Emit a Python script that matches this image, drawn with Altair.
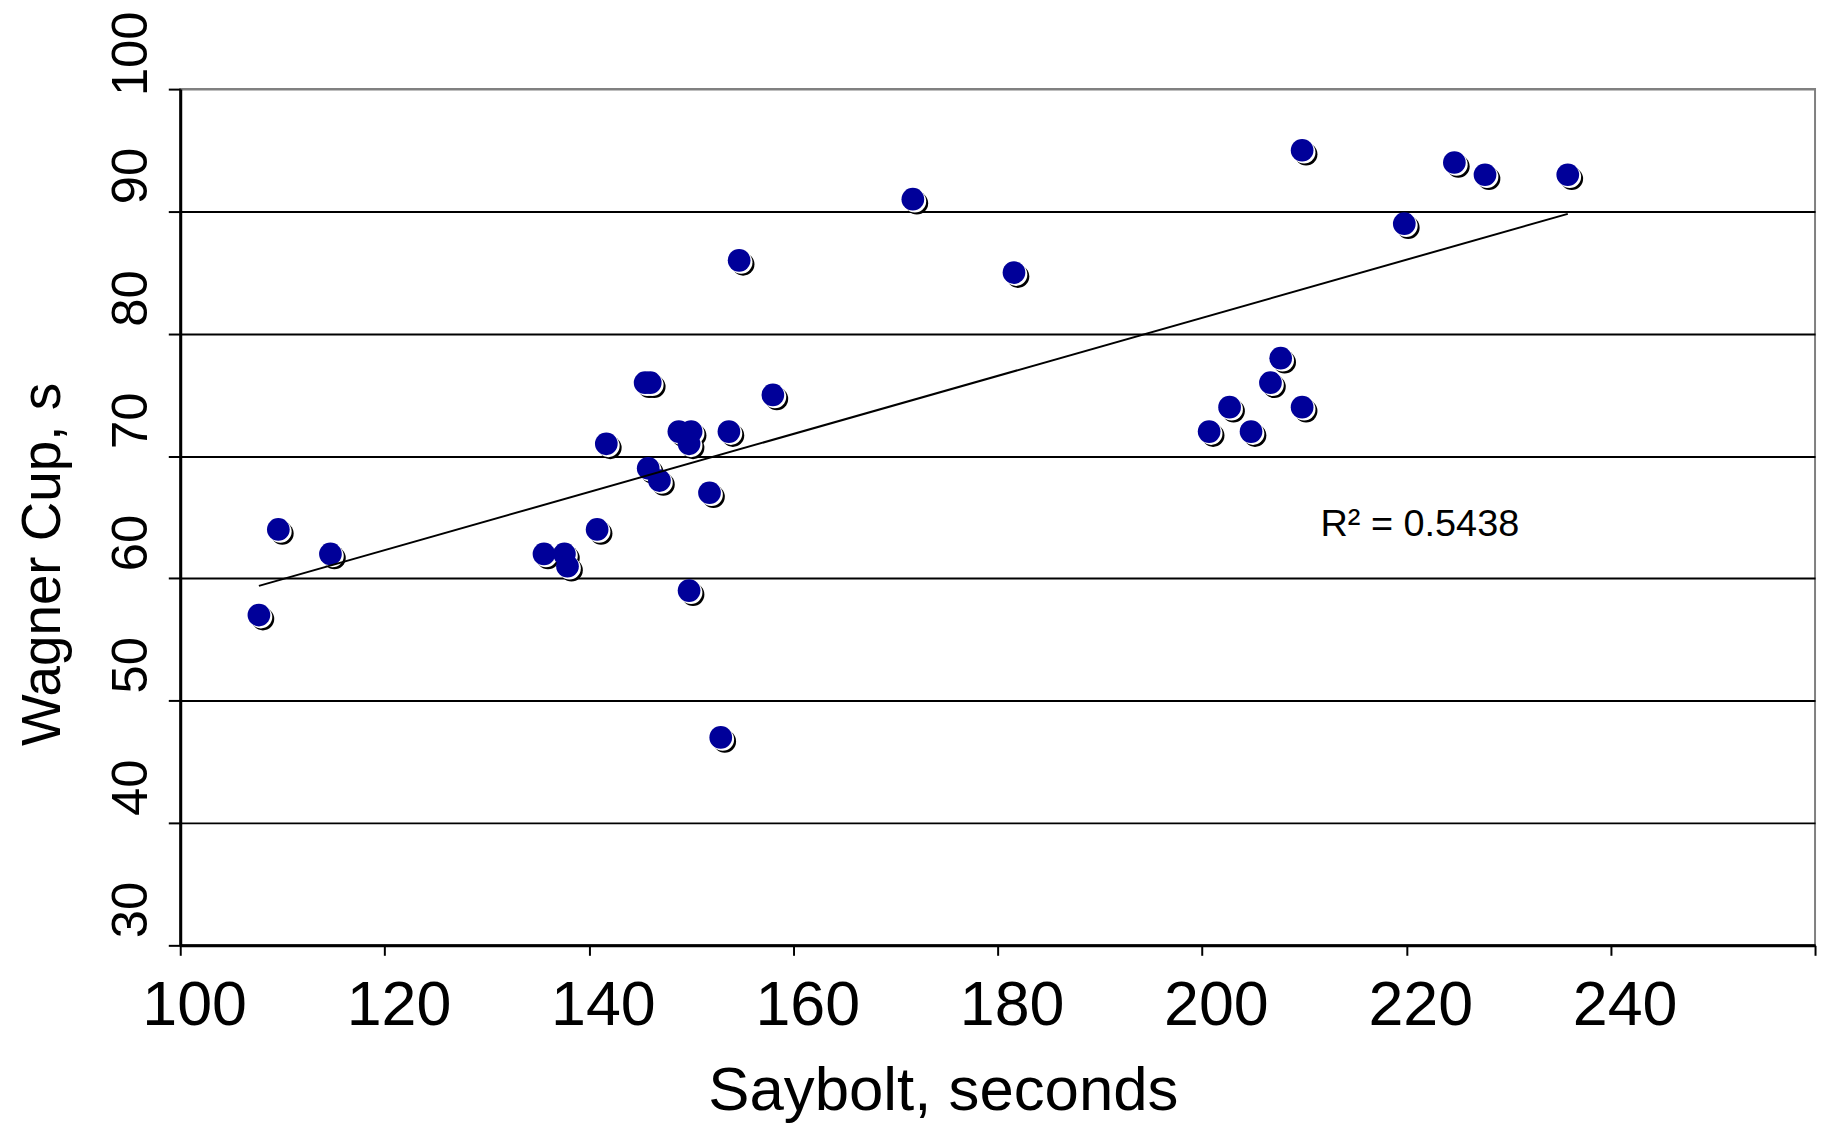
import altair as alt
import pandas as pd

saybolt = [107.7, 109.6, 114.7, 135.6, 137.6, 137.9, 140.8, 141.7, 145.5, 146.0,
           145.8, 146.9, 148.8, 150.0, 149.8, 149.8, 151.8, 152.9, 153.7, 154.7,
           158.0, 171.7, 181.6, 200.7, 202.7, 204.8, 206.7, 207.7, 209.8, 209.8,
           219.8, 224.7, 227.7, 235.8]
wagner = [57, 64, 62, 62, 62, 61, 64, 71, 76, 76,
          69, 68, 72, 72, 71, 59, 67, 47, 72, 86,
          75, 91, 85, 72, 74, 72, 76, 78, 74, 95,
          89, 94, 93, 93]
x_ticks = [100, 120, 140, 160, 180, 200, 220, 240, 260]
y_ticks = [30, 40, 50, 60, 70, 80, 90, 100]
r2_label = "R\u00b2 = 0.5438"

df = pd.DataFrame({"Saybolt": saybolt, "Wagner": wagner})

x_enc = alt.X(
    "Saybolt:Q",
    scale=alt.Scale(domain=[100, 260], nice=False, zero=False),
    axis=alt.Axis(
        values=x_ticks,
        labelExpr="datum.value >= 260 ? '' : datum.label",
        grid=False,
        domainColor="black", domainWidth=3,
        tickColor="black", tickWidth=2, tickSize=10,
        labelFont="Liberation Sans", labelFontSize=63, labelColor="black",
        labelPadding=70, labelBaseline="alphabetic", labelOffset=14,
        labelFlush=False, labelOverlap=False, labelBound=False,
        title="Saybolt, seconds", titleFont="Liberation Sans", titleFontSize=62,
        titleFontWeight="normal", titleColor="black",
        titleX=766, titleY=165, titleAlign="center", titleBaseline="alphabetic",
    ),
)
y_enc = alt.Y(
    "Wagner:Q",
    scale=alt.Scale(domain=[30, 100], nice=False, zero=False),
    axis=alt.Axis(
        values=y_ticks,
        grid=True,
        gridColor={"condition": {"test": "datum.value >= 100", "value": "#808080"}, "value": "black"},
        gridWidth=2,
        domainColor="black", domainWidth=3,
        tickColor="black", tickWidth=2, tickSize=12,
        labelAngle=270, labelAlign="center", labelBaseline="alphabetic",
        labelPadding=22, labelOffset=-36,
        labelFont="Liberation Sans", labelFontSize=51, labelColor="black",
        labelFlush=False, labelOverlap=False, labelBound=False,
        title="Wagner Cup, s", titleFont="Liberation Sans", titleFontSize=55,
        titleFontWeight="normal", titleColor="black", titleAngle=270,
        titleX=-121, titleY=477, titleAlign="center", titleBaseline="alphabetic",
    ),
)

base = alt.Chart(df)

shadow = base.mark_circle(size=520, color="black", opacity=1, xOffset=4, yOffset=4).encode(
    x=x_enc, y=y_enc
)
gap = base.mark_circle(size=520, color="white", opacity=1, xOffset=2, yOffset=2).encode(
    x="Saybolt:Q", y="Wagner:Q"
)
dots = base.mark_circle(size=520, color="#000099", opacity=1).encode(
    x="Saybolt:Q", y="Wagner:Q"
)
trend = base.transform_regression("Saybolt", "Wagner", method="linear").mark_line(
    color="black", strokeWidth=2
).encode(x="Saybolt:Q", y="Wagner:Q")

r2 = alt.Chart(pd.DataFrame({"label": [r2_label]})).mark_text(
    font="Liberation Sans", fontSize=38, color="black", align="left", baseline="alphabetic"
).encode(
    x=alt.datum(211.6), y=alt.datum(63.5), text="label:N"
)

chart = alt.layer(shadow, gap, dots, trend, r2).properties(
    width=1642, height=860,
    autosize=alt.AutoSizeParams(type="none"),
    padding={"left": 173, "top": 79, "right": 8, "bottom": 182},
    background="white",
).configure_view(stroke="#808080", strokeWidth=2)

chart.save("out.html", embed_options={"renderer": "svg", "actions": False})
